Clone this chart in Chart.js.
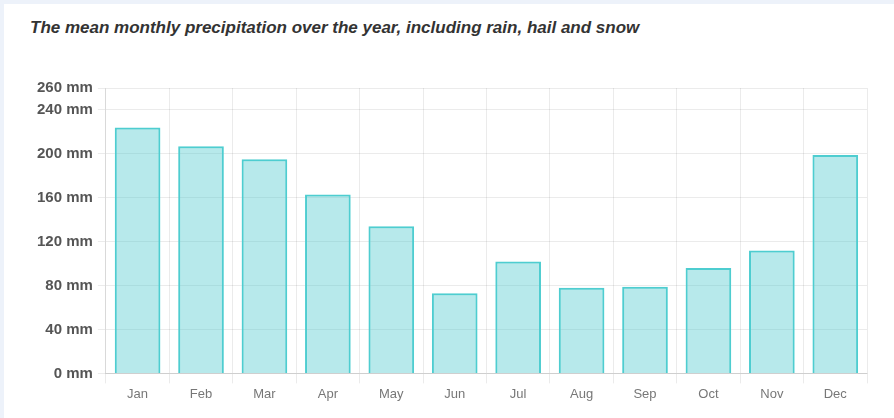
<!DOCTYPE html>
<html>
<head>
<meta charset="utf-8">
<script src="https://cdn.jsdelivr.net/npm/chart.js@4"></script>
<style>
    html, body { margin: 0; padding: 0; background: #edf2fa; }
    .card {
        position: absolute; left: 4px; top: 4px; right: 0; bottom: 0;
        background: #ffffff;
    }
    h1 {
        position: absolute; left: 26px; top: 14px; margin: 0;
        font: italic bold 17px/20px "Liberation Sans", Arial, sans-serif;
        color: #333333;
        white-space: nowrap;
    }
    #wrap { position: absolute; left: 0; top: 0; width: 890px; height: 414px; }
</style>
</head>
<body>
<div class="card">
    <h1>The mean monthly precipitation over the year, including rain, hail and snow</h1>
    <div id="wrap"><canvas id="rainChart"></canvas></div>
</div>
<script>
// Data
const months = ['Jan', 'Feb', 'Mar', 'Apr', 'May', 'Jun', 'Jul', 'Aug', 'Sep', 'Oct', 'Nov', 'Dec'];
const precipitation = [224, 207, 195, 163, 134, 73, 102, 78, 79, 96, 112, 199];
const yMax = 260;
const yStep = 40;

document.addEventListener('DOMContentLoaded', () => {
    const ctx = document.getElementById('rainChart').getContext('2d');
    new Chart(ctx, {
        type: 'bar',
        data: {
            labels: months,
            datasets: [{
                label: 'Precipitation',
                data: precipitation,
                backgroundColor: 'rgba(75, 200, 205, 0.4)',
                borderColor: 'rgb(78, 205, 208)',
                borderWidth: 2
            }]
        },
        options: {
            responsive: true,
            maintainAspectRatio: false,
            animation: false,
            layout: { padding: { top: 84, right: 27, bottom: 13, left: 28 } },
            plugins: {
                legend: { display: false },
                tooltip: { enabled: false }
            },
            scales: {
                x: {
                    grid: { color: 'rgba(0, 0, 0, 0.08)', offset: true, tickLength: 10 },
                    border: { color: 'rgba(0, 0, 0, 0.12)' },
                    ticks: { color: '#777', font: { family: 'Liberation Sans', size: 13 } }
                },
                y: {
                    min: 0,
                    max: yMax,
                    grid: { color: 'rgba(0, 0, 0, 0.08)', tickLength: 8 },
                    border: { color: 'rgba(0, 0, 0, 0.08)' },
                    ticks: {
                        stepSize: yStep,
                        color: '#555',
                        padding: 5,
                        font: { family: 'Liberation Sans', size: 15, weight: 'bold' },
                        callback: v => v + ' mm'
                    }
                }
            }
        }
    });
});
</script>
</body>
</html>
